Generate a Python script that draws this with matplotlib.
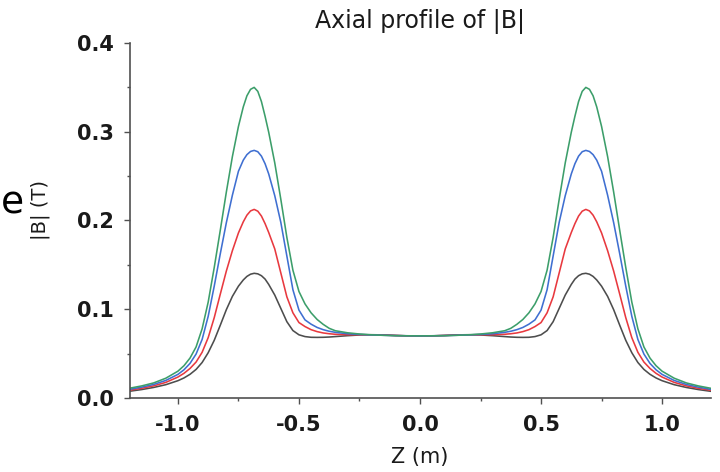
import matplotlib
matplotlib.use("Agg")
import matplotlib.pyplot as plt
from matplotlib.ticker import MultipleLocator, FormatStrFormatter

plt.rcParams['font.family'] = ['DejaVu Sans']
plt.rcParams['axes.unicode_minus'] = False

# Axial position (m)
z = [-1.2, -1.15, -1.1, -1.05, -1.0, -0.975, -0.95, -0.925, -0.9, -0.875, -0.85, -0.825,
     -0.8, -0.775, -0.75, -0.73, -0.715, -0.7, -0.685, -0.67, -0.655, -0.64, -0.625,
     -0.6, -0.575, -0.55, -0.525, -0.5, -0.475, -0.45, -0.425, -0.4, -0.375, -0.35,
     -0.3, -0.25, -0.2, -0.15, -0.1, -0.05,
     0.0,
     0.05, 0.1, 0.15, 0.2, 0.25, 0.3, 0.35, 0.375, 0.4, 0.425, 0.45, 0.475, 0.5,
     0.525, 0.55, 0.575, 0.6, 0.625, 0.64, 0.655, 0.67, 0.685, 0.7, 0.715, 0.73,
     0.75, 0.775, 0.8, 0.825, 0.85, 0.875, 0.9, 0.925, 0.95, 0.975, 1.0, 1.05, 1.1,
     1.15, 1.2]

# |B| (T) for the four cases
b_gray = [0.0076, 0.0095, 0.0119, 0.0150, 0.0195, 0.0226, 0.0267, 0.0322, 0.0400, 0.0510,
          0.0650, 0.0820, 0.0995, 0.1145, 0.1260, 0.1330, 0.1370, 0.1395, 0.1405, 0.1399,
          0.1378, 0.1340, 0.1280, 0.1160, 0.1010, 0.0860, 0.0760, 0.0712, 0.0692, 0.0684,
          0.0683, 0.0684, 0.0687, 0.0692, 0.0702, 0.0710, 0.0713, 0.0711, 0.0705, 0.0700,
          0.0698,
          0.0700, 0.0705, 0.0711, 0.0713, 0.0710, 0.0702, 0.0692, 0.0687, 0.0684, 0.0683,
          0.0684, 0.0692, 0.0712, 0.0760, 0.0860, 0.1010, 0.1160, 0.1280, 0.1340, 0.1378,
          0.1399, 0.1405, 0.1395, 0.1370, 0.1330, 0.1260, 0.1145, 0.0995, 0.0820, 0.0650,
          0.0510, 0.0400, 0.0322, 0.0267, 0.0226, 0.0195, 0.0150, 0.0119, 0.0095, 0.0076]

b_red = [0.0088, 0.0109, 0.0137, 0.0176, 0.0236, 0.0278, 0.0333, 0.0405, 0.0515, 0.0680,
         0.0905, 0.1170, 0.1430, 0.1660, 0.1860, 0.1985, 0.2060, 0.2108, 0.2125, 0.2105,
         0.2050, 0.1965, 0.1865, 0.1680, 0.1410, 0.1140, 0.0960, 0.0850, 0.0805, 0.0770,
         0.0748, 0.0733, 0.0724, 0.0718, 0.0713, 0.0713, 0.0712, 0.0709, 0.0704, 0.0700,
         0.0699,
         0.0700, 0.0704, 0.0709, 0.0712, 0.0713, 0.0713, 0.0718, 0.0724, 0.0733, 0.0748,
         0.0770, 0.0805, 0.0850, 0.0960, 0.1140, 0.1410, 0.1680, 0.1865, 0.1965, 0.2050,
         0.2105, 0.2125, 0.2108, 0.2060, 0.1985, 0.1860, 0.1660, 0.1430, 0.1170, 0.0905,
         0.0680, 0.0515, 0.0405, 0.0333, 0.0278, 0.0236, 0.0176, 0.0137, 0.0109, 0.0088]

b_blue = [0.0098, 0.0122, 0.0153, 0.0198, 0.0266, 0.0318, 0.0390, 0.0495, 0.0660, 0.0920,
          0.1260, 0.1625, 0.1975, 0.2285, 0.2555, 0.2680, 0.2742, 0.2778, 0.2790, 0.2775,
          0.2725, 0.2640, 0.2525, 0.2280, 0.1980, 0.1600, 0.1220, 0.0990, 0.0880, 0.0832,
          0.0795, 0.0770, 0.0752, 0.0740, 0.0724, 0.0716, 0.0711, 0.0707, 0.0703, 0.0701,
          0.0700,
          0.0701, 0.0703, 0.0707, 0.0711, 0.0716, 0.0724, 0.0740, 0.0752, 0.0770, 0.0795,
          0.0832, 0.0880, 0.0990, 0.1220, 0.1600, 0.1980, 0.2280, 0.2525, 0.2640, 0.2725,
          0.2775, 0.2790, 0.2778, 0.2742, 0.2680, 0.2555, 0.2285, 0.1975, 0.1625, 0.1260,
          0.0920, 0.0660, 0.0495, 0.0390, 0.0318, 0.0266, 0.0198, 0.0153, 0.0122, 0.0098]

b_green = [0.0110, 0.0136, 0.0170, 0.0223, 0.0302, 0.0364, 0.0450, 0.0575, 0.0780, 0.1080,
           0.1470, 0.1890, 0.2320, 0.2720, 0.3060, 0.3280, 0.3405, 0.3478, 0.3500, 0.3455,
           0.3340, 0.3175, 0.2995, 0.2650, 0.2240, 0.1810, 0.1440, 0.1200, 0.1060, 0.0960,
           0.0885, 0.0830, 0.0785, 0.0758, 0.0735, 0.0721, 0.0712, 0.0706, 0.0702, 0.0701,
           0.0700,
           0.0701, 0.0702, 0.0706, 0.0712, 0.0721, 0.0735, 0.0758, 0.0785, 0.0830, 0.0885,
           0.0960, 0.1060, 0.1200, 0.1440, 0.1810, 0.2240, 0.2650, 0.2995, 0.3175, 0.3340,
           0.3455, 0.3500, 0.3478, 0.3405, 0.3280, 0.3060, 0.2720, 0.2320, 0.1890, 0.1470,
           0.1080, 0.0780, 0.0575, 0.0450, 0.0364, 0.0302, 0.0223, 0.0170, 0.0136, 0.0110]

series = [b_gray, b_red, b_blue, b_green]
colors = ['#4d4d4d', '#e8393f', '#3f6fd1', '#3c9e6a']

title = 'Axial profile of |B|'
xlabel = 'Z (m)'
ylabel = '|B| (T)'

fig = plt.figure(figsize=(7.2, 4.72), dpi=100)
ax = fig.add_axes([129.5 / 720, 74 / 472, 581 / 720, 355 / 472])

for b, c in zip(series, colors):
    ax.plot(z, b, color=c, lw=1.15, solid_joinstyle='round')

ax.set_xlim(-1.2, 1.2)
ax.set_ylim(0.0, 0.4)
ax.xaxis.set_major_locator(MultipleLocator(0.5))
ax.xaxis.set_minor_locator(MultipleLocator(0.25))
ax.yaxis.set_major_locator(MultipleLocator(0.1))
ax.yaxis.set_minor_locator(MultipleLocator(0.05))
ax.xaxis.set_major_formatter(FormatStrFormatter('%.1f'))
ax.yaxis.set_major_formatter(FormatStrFormatter('%.1f'))

for s in ['top', 'right']:
    ax.spines[s].set_visible(False)
for s in ['left', 'bottom']:
    ax.spines[s].set_color('#505050')
    ax.spines[s].set_linewidth(1.2)

ax.tick_params(which='major', direction='out', length=4.5, width=1.0, color='#505050')
ax.tick_params(which='minor', direction='out', length=2.5, width=1.0, color='#505050')
ax.tick_params(axis='x', which='major', pad=7.5)
ax.tick_params(axis='y', which='major', pad=6.5)
for lab in ax.get_xticklabels() + ax.get_yticklabels():
    lab.set_fontweight('bold')
    lab.set_fontsize(15)
    lab.set_color('#1a1a1a')

ax.set_title(title, fontsize=17, color='#1a1a1a', pad=11)
ax.set_xlabel(xlabel, fontsize=15, color='#1a1a1a')
ax.set_ylabel(ylabel, fontsize=14, color='#1a1a1a')
ax.xaxis.set_label_coords(0.5, -0.139)
ax.yaxis.set_label_coords(-0.137, 0.53)

fig.text(1 / 720, 1 - 213 / 472, 'e', fontsize=27, color='black', ha='left', va='baseline')

fig.savefig('out.png', dpi=100)
